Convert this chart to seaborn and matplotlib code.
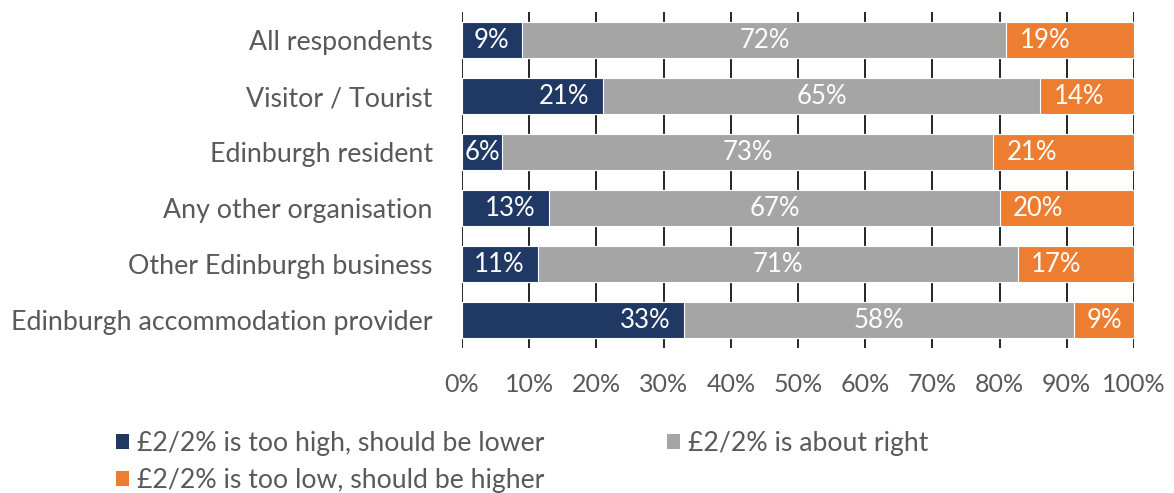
import matplotlib
matplotlib.use("Agg")
import matplotlib.pyplot as plt
import seaborn as sns
import pandas as pd
from matplotlib.patches import Patch

categories = ["All respondents", "Visitor / Tourist", "Edinburgh resident",
              "Any other organisation", "Other Edinburgh business",
              "Edinburgh accommodation provider"]
too_high = [9, 21, 6, 13, 11.3, 33]
about_right = [72, 65, 73, 67, 71.4, 58]
too_low = [19, 14, 21, 20, 17.3, 9]
series_names = ["£2/2% is too high, should be lower",
                "£2/2% is about right",
                "£2/2% is too low, should be higher"]
x_ticks = [0, 10, 20, 30, 40, 50, 60, 70, 80, 90, 100]

colors = ["#203864", "#A5A5A5", "#ED7D31"]
text_grey = "#595959"

sns.set_theme(style="white")
plt.rcParams["font.family"] = ["Lato", "DejaVu Sans"]

df = pd.DataFrame({"category": categories, "high": too_high,
                   "right": about_right, "low": too_low})
df["cum1"] = df["high"]
df["cum2"] = df["high"] + df["right"]
df["cum3"] = df["cum2"] + df["low"]

fig = plt.figure(figsize=(11.74, 4.93), dpi=100)
ax = fig.add_axes([462 / 1174, 1 - 348 / 493, 672 / 1174, 336 / 493])

# stacked bars: draw cumulative totals back to front
for col, c in zip(["cum3", "cum2", "cum1"], colors[::-1]):
    sns.barplot(data=df, x=col, y="category", orient="h", color=c,
                width=0.65, edgecolor="white", linewidth=0.8,
                saturation=1, ax=ax)

ax.set_xlim(0, 100)
ax.set_ylim(5.5, -0.5)

bar_fs = 18.5
pad = 2.0
fig.canvas.draw()
renderer = fig.canvas.get_renderer()
px_per_unit = ax.get_window_extent().width / 100.0

for i, row in df.iterrows():
    t = ax.text(row["cum1"] - pad, i, f"{row['high']:.0f}%", ha="right",
                va="center", color="white", fontsize=bar_fs)
    w = t.get_window_extent(renderer).width / px_per_unit
    if w + pad > row["high"]:
        # too narrow for the end padding: centre it in the segment
        t.set_x(row["cum1"] / 2)
        t.set_ha("center")
    ax.text(row["cum1"] + row["right"] / 2, i, f"{row['right']:.0f}%",
            ha="center", va="center", color="white", fontsize=bar_fs)
    ax.text(row["cum2"] + pad, i, f"{row['low']:.0f}%", ha="left",
            va="center", color="white", fontsize=bar_fs)

ax.set_xticks(x_ticks)
ax.set_xticklabels([f"{t}%" for t in x_ticks])
ax.set_xlabel("")
ax.set_ylabel("")
ax.set_axisbelow(True)
ax.grid(axis="x", color="black", linewidth=1.2)
ax.grid(axis="y", visible=False)
for s in ax.spines.values():
    s.set_visible(False)
ax.tick_params(axis="x", length=0, pad=18, labelsize=18, labelcolor=text_grey)
ax.tick_params(axis="y", length=0, pad=21, labelsize=19.3, labelcolor=text_grey)

# legend filled column-wise: high/low in the first column, right in the second
order = [0, 2, 1]
handles = [Patch(facecolor=colors[k], edgecolor="none") for k in order]
labels = [series_names[k] for k in order]
fig.legend(handles, labels, loc="upper left", ncol=2,
           bbox_to_anchor=(105 / 1174, 1 - 420 / 493), frameon=False,
           fontsize=19.2, labelcolor=text_grey, handlelength=0.5,
           handleheight=0.5, handletextpad=0.3, columnspacing=4.6,
           labelspacing=0.45, borderaxespad=0)

fig.savefig("out.png", dpi=100)
